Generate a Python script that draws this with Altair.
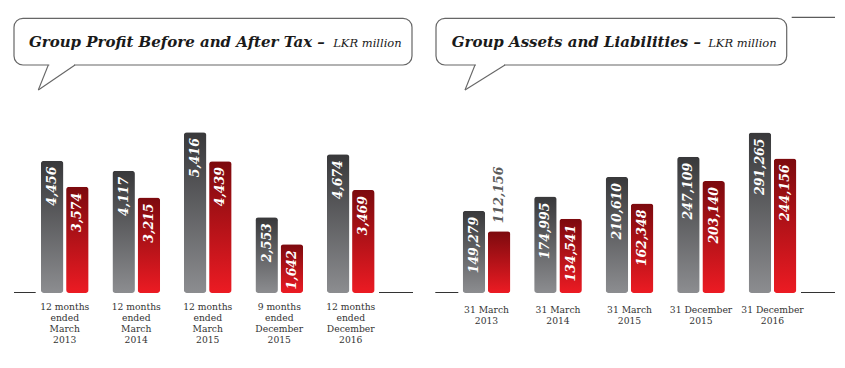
import altair as alt
import pandas as pd

# ---------------- data ----------------
profit_cats = ["12 months\nended\nMarch\n2013", "12 months\nended\nMarch\n2014",
               "12 months\nended\nMarch\n2015", "9 months\nended\nDecember\n2015",
               "12 months\nended\nDecember\n2016"]
profit_before = [4456, 4117, 5416, 2553, 4674]
profit_after = [3574, 3215, 4439, 1642, 3469]
profit_before_inside = [True, True, True, True, True]
profit_after_inside = [True, True, True, True, True]

asset_cats = ["31 March\n2013", "31 March\n2014", "31 March\n2015",
              "31 December\n2015", "31 December\n2016"]
assets = [149279, 174995, 210610, 247109, 291265]
liabilities = [112156, 134541, 162348, 203140, 244156]
assets_inside = [True, True, True, True, True]
liabilities_inside = [False, True, True, True, True]

SERIF = "DejaVu Serif"
GREY_GRAD = alt.Gradient(gradient="linear", x1=0, x2=0, y1=0, y2=1,
                         stops=[alt.GradientStop(color="#38383a", offset=0),
                                alt.GradientStop(color="#8c8d90", offset=1)])
RED_GRAD = alt.Gradient(gradient="linear", x1=0, x2=0, y1=0, y2=1,
                        stops=[alt.GradientStop(color="#7c0a0e", offset=0),
                               alt.GradientStop(color="#ec1b23", offset=1)])
H = 285
BAR_W = 22.5
OFF = 12.6


def make_df(cats, s1, v1, f1, s2, v2, f2):
    rows = []
    for c, a, fa, b, fb in zip(cats, v1, f1, v2, f2):
        rows.append({"cat": c, "series": s1, "value": a, "inside": fa})
        rows.append({"cat": c, "series": s2, "value": b, "inside": fb})
    return pd.DataFrame(rows)


def panel(cats, s1, v1, f1, s2, v2, f2, ymax, W, xrange, title_bold, title_x,
          lkr_right, bub, tail, lines, topline=None):
    df = make_df(cats, s1, v1, f1, s2, v2, f2)
    base = alt.Chart(df)
    X = alt.X("cat:N", sort=cats, axis=None,
              scale=alt.Scale(domain=cats, range=xrange, paddingInner=0.333,
                              paddingOuter=0.1665))
    Y = alt.Y("value:Q", axis=None, scale=alt.Scale(domain=[0, ymax], nice=False, zero=True))

    layers = []
    for s, grad, off in ((s1, GREY_GRAD, -OFF), (s2, RED_GRAD, OFF)):
        sub = base.transform_filter(alt.datum.series == s)
        layers.append(sub.mark_bar(color=grad, cornerRadius=3, width=BAR_W, xOffset=off)
                      .encode(x=X, y=Y))
        layers.append(sub.transform_filter(alt.datum.inside == True).mark_text(
            angle=270, align="right", baseline="middle", dx=-6, xOffset=off, font=SERIF,
            fontStyle="italic", fontWeight="bold", fontSize=12.5, color="white"
        ).encode(x=X, y=Y, text=alt.Text("value:Q", format=",")))
        layers.append(sub.transform_filter(alt.datum.inside == False).mark_text(
            angle=270, align="left", baseline="middle", dx=8, xOffset=off, font=SERIF,
            fontStyle="italic", fontWeight="bold", fontSize=12.5, color="#5a5a5a"
        ).encode(x=X, y=Y, text=alt.Text("value:Q", format=",")))

    cat_df = pd.DataFrame({"cat": cats})
    cat_lab = alt.Chart(cat_df).mark_text(
        font=SERIF, fontSize=9.2, color="#333333", lineBreak="\n", lineHeight=11.2,
        baseline="alphabetic", align="center"
    ).encode(x=X, y=alt.value(lines["label_y"]), text="cat:N")

    one = alt.Data(values=[{"k": 1}])
    deco = []
    # bubble
    deco.append(alt.Chart(one).mark_rect(fill="white", stroke="#666666", strokeWidth=1.2,
                                         cornerRadius=9).encode(
        x=alt.value(bub[0]), x2=alt.value(bub[1]), y=alt.value(bub[2]), y2=alt.value(bub[3])))
    deco.append(alt.Chart(one).mark_rule(color="white", strokeWidth=3).encode(
        x=alt.value(tail[0] + 1), x2=alt.value(tail[1] - 1), y=alt.value(bub[3]),
        y2=alt.value(bub[3])))
    for bx in (tail[0], tail[1]):
        deco.append(alt.Chart(one).mark_rule(color="#666666", strokeWidth=1.1).encode(
            x=alt.value(bx), x2=alt.value(tail[2]), y=alt.value(bub[3]), y2=alt.value(tail[3])))
    deco.append(alt.Chart(one).mark_text(
        font=SERIF, fontStyle="italic", fontWeight="bold", fontSize=15, color="#1a1a1a",
        align="left", baseline="alphabetic").encode(
        x=alt.value(title_x), y=alt.value(38.7), text=alt.value(title_bold + " \u2013")))
    deco.append(alt.Chart(one).mark_text(
        font=SERIF, fontStyle="italic", fontSize=11.5, color="#1a1a1a",
        align="right", baseline="alphabetic").encode(
        x=alt.value(lkr_right), y=alt.value(38.7), text=alt.value("LKR million")))
    for (a, b) in lines["base"]:
        deco.append(alt.Chart(one).mark_rule(color="#333333", strokeWidth=1).encode(
            x=alt.value(a), x2=alt.value(b), y=alt.value(284.5), y2=alt.value(284.5)))
    if topline:
        deco.append(alt.Chart(one).mark_rule(color="#333333", strokeWidth=1).encode(
            x=alt.value(topline[0]), x2=alt.value(topline[1]), y=alt.value(topline[2]),
            y2=alt.value(topline[2])))

    return alt.layer(*deco, *layers, cat_lab).properties(width=W, height=H)


left = panel(profit_cats, "Before Tax", profit_before, profit_before_inside,
             "After Tax", profit_after, profit_after_inside,
             ymax=9596, W=412, xrange=[21, 378.5],
             title_bold="Group Profit Before and After Tax", title_x=21, lkr_right=393.7,
             bub=[6, 404, 10.3, 57], tail=[40.3, 67, 30.3, 82],
             lines={"label_y": 301.5, "base": [(6, 27.7), (371, 405)]})

right = panel(asset_cats, "Assets", assets, assets_inside,
              "Liabilities", liabilities, liabilities_inside,
              ymax=517241, W=417, xrange=[30.75, 388.25],
              title_bold="Group Assets and Liabilities", title_x=31.7, lkr_right=356.7,
              bub=[16, 366.7, 10.3, 57], tail=[55, 85, 45, 82],
              lines={"label_y": 304.7, "base": [(15.3, 38.3), (381, 415)]},
              topline=[371.7, 415, 9.3])

chart = alt.hconcat(left, right, spacing=0, padding=0).configure_view(stroke=None)

chart.save("out.html", embed_options={"renderer": "svg", "actions": False})
